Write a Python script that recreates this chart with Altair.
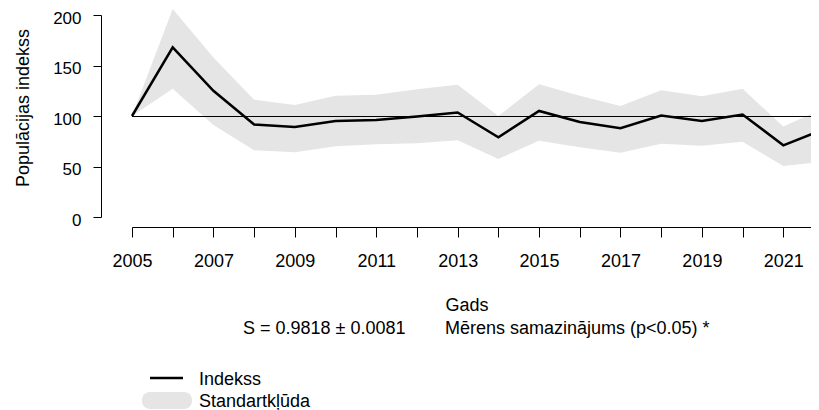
import altair as alt
import pandas as pd

years = list(range(2005, 2023))
index_vals = [100, 168, 125, 91.5, 89, 95, 96, 99.5, 103.5, 79, 105, 94, 88, 100.5, 95, 101.5, 71, 87]
upper_vals = [100, 206, 158, 116, 111, 120, 121, 126.5, 131, 100, 131.5, 120, 110, 125.5, 119.5, 127, 89.5, 108]
lower_vals = [100, 127, 91, 66, 64, 70, 72, 73, 76, 57.5, 75.5, 69, 63.5, 72.5, 70.5, 74.5, 50.5, 55]
y_ticks = [0, 50, 100, 150, 200]
baseline = [100]
x_title = ["Gads"]
y_title = ["Populācijas indekss"]
stat_text = ["S = 0.9818 ± 0.0081"]
trend_text = ["Mērens samazinājums (p<0.05) *"]
legend_labels = ["Indekss", "Standartkļūda"]

FONT = "Liberation Sans"
FS = 18

df = pd.DataFrame({"year": years, "index": index_vals, "upper": upper_vals, "lower": lower_vals})

xscale = alt.Scale(domain=[2005, 2022], range=[0, 692], nice=False, zero=False)
yscale = alt.Scale(domain=[0, 200], nice=False)

xaxis = alt.Axis(values=years, format="d",
                 labelExpr="datum.value % 2 == 1 ? datum.label : ''",
                 offset=10, tickSize=10, labelPadding=15, grid=False,
                 domainColor="black", tickColor="black", labelColor="black",
                 labelFont=FONT, labelFontSize=FS, title=None,
                 labelFlush=False, labelOverlap=False, labelBound=False)
yaxis = alt.Axis(values=y_ticks, offset=31, tickSize=8, labelPadding=12, grid=False,
                 domainColor="black", tickColor="black", labelColor="black",
                 labelFont=FONT, labelFontSize=17, title=None, labelAngle=0,
                 labelOffset=3, labelFlush=False, labelBound=False)

band = alt.Chart(df).mark_area(color="#e5e5e5", opacity=1).encode(
    x=alt.X("year:Q", scale=xscale, axis=xaxis),
    y=alt.Y("lower:Q", scale=yscale, axis=yaxis),
    y2="upper:Q",
)

ref = alt.Chart(pd.DataFrame({"y": baseline, "x": [years[0]], "x2": [years[-1]]})).mark_rule(
    color="black", strokeWidth=1, yOffset=0.5
).encode(
    x=alt.X("x:Q", scale=xscale, axis=xaxis),
    x2="x2:Q",
    y=alt.Y("y:Q", scale=yscale, axis=yaxis),
)

line = alt.Chart(df).mark_line(color="black", strokeWidth=2.5).encode(
    x=alt.X("year:Q", scale=xscale, axis=xaxis),
    y=alt.Y("index:Q", scale=yscale, axis=yaxis),
)

def txt(lst, x, y, align="left", angle=0):
    return alt.Chart(pd.DataFrame({"t": lst})).mark_text(
        font=FONT, fontSize=FS, color="black", align=align, baseline="middle", angle=angle
    ).encode(text="t:N", x=alt.value(x), y=alt.value(y))

ytitle = txt(y_title, -108, 93, align="center", angle=270)
xtitle = txt(x_title, 335, 291, align="center")
stat = txt(stat_text, 111, 314)
trend = txt(trend_text, 313, 314)

leg_line = alt.Chart(pd.DataFrame({"l": legend_labels[:1]})).mark_rule(
    color="black", strokeWidth=2.5
).encode(x=alt.value(18), x2=alt.value(51), y=alt.value(363))
leg_rect = alt.Chart(pd.DataFrame({"l": legend_labels[1:]})).mark_rect(
    color="#e5e5e5", cornerRadius=8
).encode(x=alt.value(10), x2=alt.value(60), y=alt.value(377), y2=alt.value(394))
leg_t1 = txt(legend_labels[:1], 67, 365)
leg_t2 = txt(legend_labels[1:], 67, 387)

chart = alt.layer(
    band, ref, line, ytitle, xtitle, stat, trend, leg_line, leg_rect, leg_t1, leg_t2
).properties(
    width=679, height=202,
    autosize=alt.AutoSizeParams(type="none"),
    padding={"left": 124, "top": 7, "right": 0, "bottom": 193},
).configure_view(stroke=None)

chart.save("out.html", embed_options={"renderer": "svg", "actions": False})
